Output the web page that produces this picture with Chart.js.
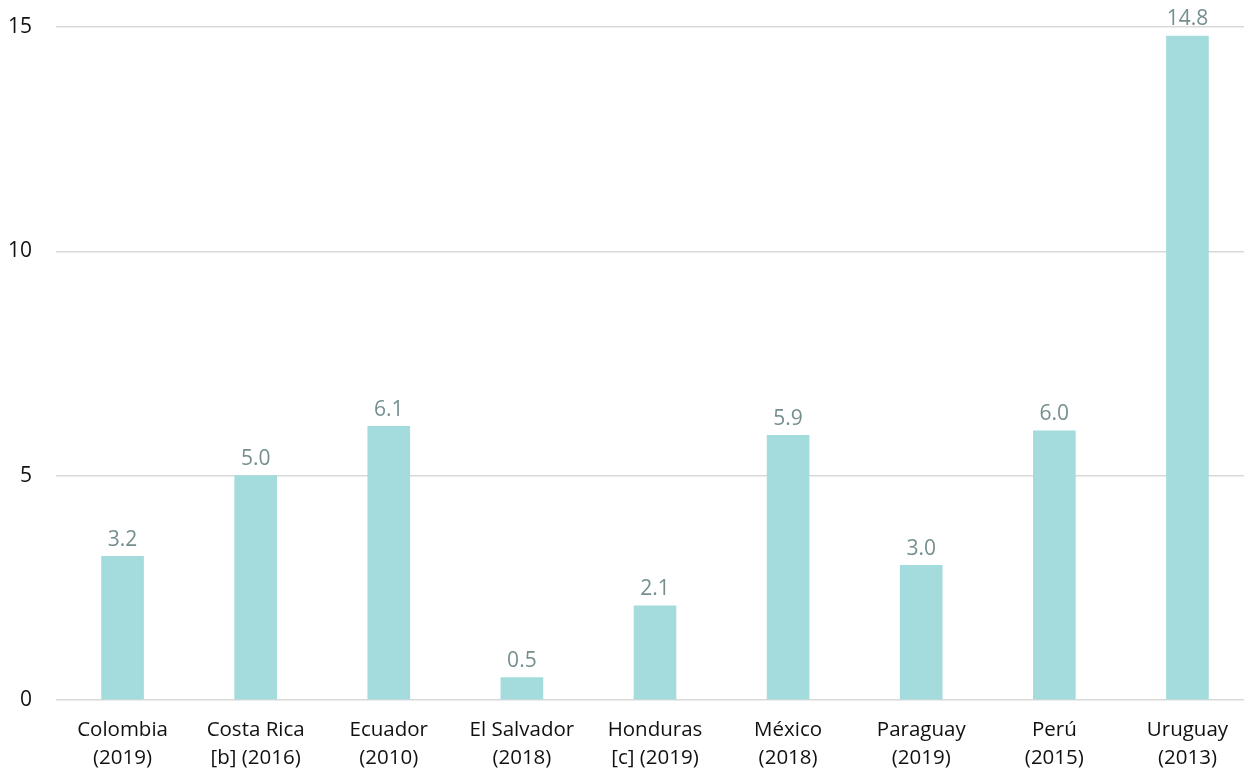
<!DOCTYPE html>
<html>
<head>
<meta charset="utf-8">
<script src="https://cdn.jsdelivr.net/npm/chart.js@4/dist/chart.umd.min.js"></script>
<style>
    html, body { margin: 0; padding: 0; background: #ffffff; overflow: hidden; }
    #wrap { width: 1256px; height: 770px; }
</style>
</head>
<body>
<div id="wrap"><canvas id="barChart" width="1256" height="770"></canvas></div>
<script>
    const countries = ['Colombia', 'Costa Rica', 'Ecuador', 'El Salvador', 'Honduras', 'México', 'Paraguay', 'Perú', 'Uruguay'];
    const secondLines = ['(2019)', '[b] (2016)', '(2010)', '(2018)', '[c] (2019)', '(2018)', '(2019)', '(2015)', '(2013)'];
    const values = [3.2, 5.0, 6.1, 0.5, 2.1, 5.9, 3.0, 6.0, 14.8];
    const yTicks = [0, 5, 10, 15];

    const fontFamily = '"Open Sans", "Noto Sans", sans-serif';

    // draws the number above each bar
    const valueLabels = {
        id: 'valueLabels',
        afterDatasetsDraw(chart) {
            const ctx = chart.ctx;
            const meta = chart.getDatasetMeta(0);
            ctx.save();
            ctx.font = '21px ' + fontFamily;
            ctx.fillStyle = '#758f8f';
            ctx.textAlign = 'center';
            ctx.textBaseline = 'bottom';
            meta.data.forEach((bar, i) => {
                ctx.fillText(values[i].toFixed(1), bar.x, bar.y - 6);
            });
            ctx.restore();
        }
    };

    const ctx = document.getElementById('barChart').getContext('2d');

    const myChart = new Chart(ctx, {
        type: 'bar',
        data: {
            labels: countries.map((c, i) => [c, secondLines[i]]),
            datasets: [{
                data: values,
                backgroundColor: '#a4dbdd',
                borderWidth: 0,
                barThickness: 42
            }]
        },
        options: {
            responsive: false,
            animation: false,
            layout: { padding: { top: 27, right: 2, left: 0, bottom: 0 } },
            plugins: {
                legend: { display: false },
                tooltip: { enabled: false }
            },
            scales: {
                x: {
                    grid: { display: false, drawTicks: false },
                    border: { display: false },
                    ticks: {
                        color: '#111111',
                        font: { family: fontFamily, size: 20.5, lineHeight: 1.37 },
                        padding: 16,
                        maxRotation: 0,
                        autoSkip: false
                    },
                    afterFit(scale) { scale.height = 70; }
                },
                y: {
                    min: 0,
                    max: 15,
                    afterBuildTicks(scale) { scale.ticks = yTicks.map(v => ({ value: v })); },
                    grid: { color: '#d9d9d9', lineWidth: 1.5, drawTicks: false },
                    border: { display: false },
                    ticks: {
                        color: '#111111',
                        font: { family: fontFamily, size: 21 },
                        padding: 24
                    },
                    afterFit(scale) {
                        scale.width = 56;
                        scale.paddingTop = 0;
                        scale.paddingBottom = 0;
                    }
                }
            }
        },
        plugins: [valueLabels]
    });
</script>
</body>
</html>
